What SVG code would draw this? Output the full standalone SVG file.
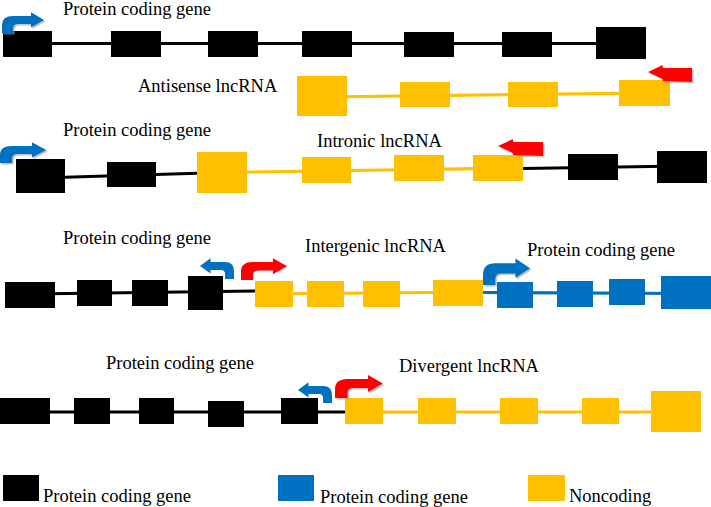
<svg xmlns="http://www.w3.org/2000/svg" xmlns:xlink="http://www.w3.org/1999/xlink" width="711" height="507" viewBox="0 0 711 507">
<style>
.k{fill:#000}.b{fill:#0070C0}.y{fill:#FFC000}
.lk{stroke:#000;stroke-width:3.2;fill:none}.lb{stroke:#0070C0;stroke-width:3.2;fill:none}.ly{stroke:#FFC000;stroke-width:3.2;fill:none}
.t{font-family:"Liberation Serif","Times New Roman",serif;font-size:18.5px;fill:#000}
.ab{fill:#0070C0}.ar{fill:#FF0000}.sh{fill:#9a9aa8;opacity:0.6}
</style>
<defs>
<path id="bent" d="M0,0 L0,-9 Q0,-19 11,-19 L29,-19 L29,-23 L42,-14.5 L29,-6 L29,-10 L16,-10 Q11,-10 11,-5 L11,0 Z"/>
<path id="block" d="M0,0 L15,-7 L15,-4 L45,-4 L45,10 L15,9 L15,7 Z"/>
</defs>
<rect width="711" height="507" fill="#fff"/>
<g id="connectors">
<line class="lk" x1="27" y1="43.5" x2="621" y2="43.5"/>
<line class="ly" x1="322" y1="97" x2="645" y2="93"/>
<polyline class="lk" points="40,178 222,172.5"/>
<polyline class="ly" points="222,172.5 523,168"/>
<polyline class="lk" points="523,168.5 682,166"/>
<polyline class="lk" points="30,294 255,291"/>
<polyline class="ly" points="255,294 483,292"/>
<polyline class="lb" points="483,292.5 686,293.5"/>
<line class="lk" x1="25" y1="412" x2="345" y2="412"/>
<line class="ly" x1="345" y1="412" x2="676" y2="412"/>
</g>
<g id="row1">
<g id="r1e1"><rect class="k" x="3" y="31" width="49" height="26"/></g>
<g id="r1e2"><rect class="k" x="111" y="31" width="50" height="26"/></g>
<g id="r1e3"><rect class="k" x="208" y="31" width="50" height="26"/></g>
<g id="r1e4"><rect class="k" x="302" y="31" width="50" height="26"/></g>
<g id="r1e5"><rect class="k" x="404" y="32" width="50" height="25"/></g>
<g id="r1e6"><rect class="k" x="502" y="32" width="50" height="25"/></g>
<g id="r1e7"><rect class="k" x="596" y="27" width="50" height="32"/></g>
</g>
<g id="row2">
<g id="r2e1"><rect class="y" x="297" y="76" width="50" height="40"/></g>
<g id="r2e2"><rect class="y" x="400" y="82" width="50" height="25"/></g>
<g id="r2e3"><rect class="y" x="508" y="82" width="50" height="25"/></g>
<g id="r2e4"><rect class="y" x="619" y="80" width="51" height="26"/></g>
</g>
<g id="row3">
<g id="r3e1"><rect class="k" x="16" y="159" width="49" height="34"/></g>
<g id="r3e2"><rect class="k" x="107" y="162" width="49" height="25"/></g>
<g id="r3e3"><rect class="y" x="197" y="152" width="50" height="41"/></g>
<g id="r3e4"><rect class="y" x="302" y="157" width="49" height="26"/></g>
<g id="r3e5"><rect class="y" x="394" y="155" width="50" height="26"/></g>
<g id="r3e6"><rect class="y" x="473" y="155" width="50" height="26"/></g>
<g id="r3e7"><rect class="k" x="568" y="154" width="50" height="26"/></g>
<g id="r3e8"><rect class="k" x="657" y="151" width="50" height="32"/></g>
</g>
<g id="row4">
<g id="r4e1"><rect class="k" x="5" y="282" width="50" height="26"/></g>
<g id="r4e2"><rect class="k" x="77" y="280" width="35" height="26"/></g>
<g id="r4e3"><rect class="k" x="132" y="280" width="36" height="26"/></g>
<g id="r4e4"><rect class="k" x="188" y="276" width="35" height="34"/></g>
<g id="r4e5"><rect class="y" x="255" y="281" width="38" height="26"/></g>
<g id="r4e6"><rect class="y" x="307" y="281" width="37" height="26"/></g>
<g id="r4e7"><rect class="y" x="363" y="281" width="37" height="26"/></g>
<g id="r4e8"><rect class="y" x="433" y="280" width="50" height="26"/></g>
<g id="r4e9"><rect class="b" x="497" y="282" width="36" height="26"/></g>
<g id="r4e10"><rect class="b" x="557" y="281" width="36" height="26"/></g>
<g id="r4e11"><rect class="b" x="609" y="279" width="36" height="26"/></g>
<g id="r4e12"><rect class="b" x="661" y="276" width="50" height="33"/></g>
</g>
<g id="row5">
<g id="r5e1"><rect class="k" x="0" y="398" width="50" height="26"/></g>
<g id="r5e2"><rect class="k" x="74" y="398" width="36" height="26"/></g>
<g id="r5e3"><rect class="k" x="139" y="398" width="35" height="26"/></g>
<g id="r5e4"><rect class="k" x="208" y="401" width="36" height="26"/></g>
<g id="r5e5"><rect class="k" x="281" y="398" width="37" height="26"/></g>
<g id="r5e6"><rect class="y" x="345" y="398" width="38" height="26"/></g>
<g id="r5e7"><rect class="y" x="418" y="398" width="38" height="26"/></g>
<g id="r5e8"><rect class="y" x="500" y="398" width="38" height="26"/></g>
<g id="r5e9"><rect class="y" x="582" y="398" width="37" height="26"/></g>
<g id="r5e10"><rect class="y" x="651" y="391" width="50" height="41"/></g>
</g>
<g id="promoters">
<g id="p1"><use href="#bent" class="sh" transform="translate(3.5,34.5) scale(1,0.9)"/><use href="#bent" class="ab" transform="translate(2,33) scale(1,0.9)"/></g>
<g id="p2"><use href="#block" class="sh" transform="translate(649.5,73.5) scale(0.98,1)"/><use href="#block" class="ar" transform="translate(648,72) scale(0.98,1)"/></g>
<g id="p3"><use href="#bent" class="sh" transform="translate(1.5,164.5) scale(1.1,0.9)"/><use href="#bent" class="ab" transform="translate(0,163) scale(1.1,0.9)"/></g>
<g id="p4"><use href="#block" class="sh" transform="translate(499.5,147.5)"/><use href="#block" class="ar" transform="translate(498,146)"/></g>
<g id="p5"><use href="#bent" class="ab" transform="translate(234,279) scale(-0.81,0.9)"/></g>
<g id="p6"><use href="#bent" class="ar" transform="translate(241,280) scale(1.1,0.95)"/></g>
<g id="p7"><use href="#bent" class="sh" transform="translate(484.5,286.5) scale(1.12,1.15)"/><use href="#bent" class="ab" transform="translate(483,285) scale(1.12,1.15)"/></g>
<g id="p8"><use href="#bent" class="ab" transform="translate(332,403) scale(-0.81,0.9)"/></g>
<g id="p9"><use href="#bent" class="sh" transform="translate(336.5,399.5) scale(1.14,1)"/><use href="#bent" class="ar" transform="translate(335,398) scale(1.14,1)"/></g>
</g>
<g id="labels">
<text class="t" x="63" y="14.5">Protein coding gene</text>
<text class="t" x="138" y="92">Antisense lncRNA</text>
<text class="t" x="63" y="136">Protein coding gene</text>
<text class="t" x="317" y="147">Intronic lncRNA</text>
<text class="t" x="63" y="244">Protein coding gene</text>
<text class="t" x="305" y="252">Intergenic lncRNA</text>
<text class="t" x="527" y="256">Protein coding gene</text>
<text class="t" x="106" y="369">Protein coding gene</text>
<text class="t" x="399" y="372">Divergent lncRNA</text>
</g>
<g id="legend">
<g id="leg1"><rect class="k" x="3" y="475" width="36" height="26"/><text class="t" x="43" y="502">Protein coding gene</text></g>
<g id="leg2"><rect class="b" x="278" y="475" width="36" height="26"/><text class="t" x="320" y="503">Protein coding gene</text></g>
<g id="leg3"><rect class="y" x="528" y="475" width="37" height="26"/><text class="t" x="569" y="502">Noncoding</text></g>
</g>
</svg>
